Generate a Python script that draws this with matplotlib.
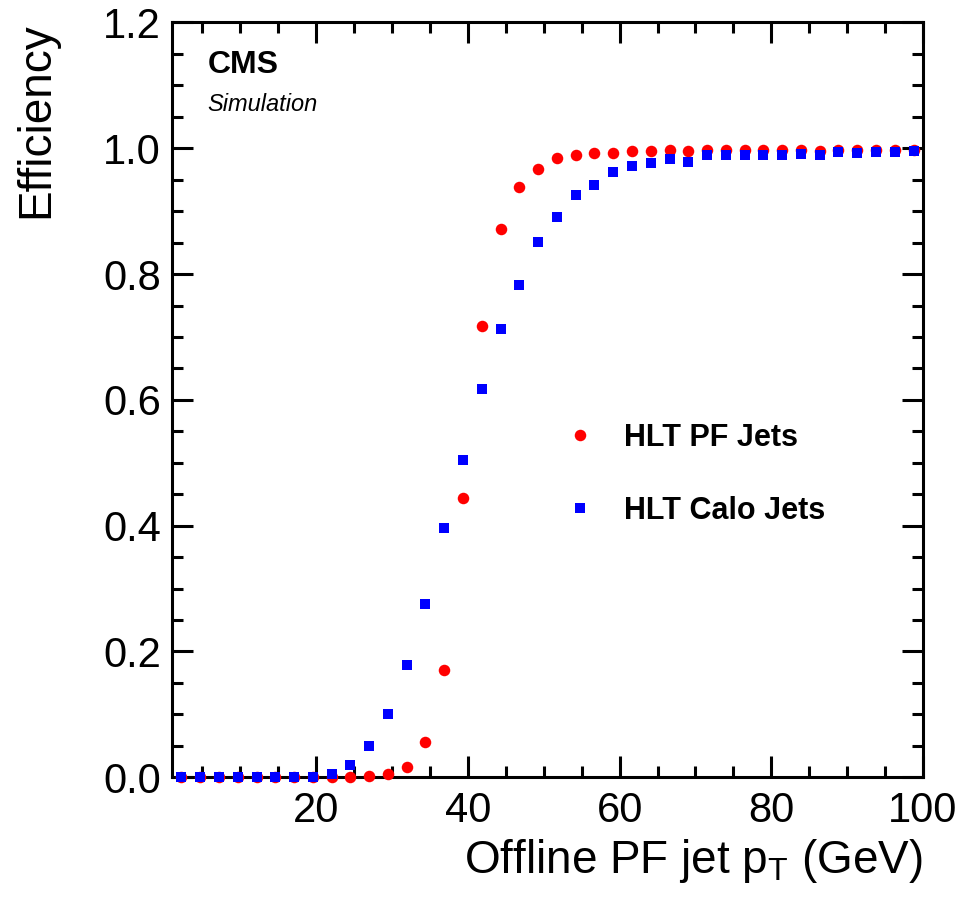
import matplotlib
matplotlib.use("Agg")
import matplotlib.pyplot as plt
from matplotlib.ticker import MultipleLocator

plt.rcParams['font.family'] = ['Liberation Sans', 'DejaVu Sans']
plt.rcParams['mathtext.default'] = 'regular'

# bin centres (GeV) and efficiencies
pt_centers = [2.24, 4.71, 7.19, 9.66, 12.14, 14.61, 17.09, 19.56, 22.04, 24.51,
              26.99, 29.46, 31.94, 34.41, 36.89, 39.36, 41.84, 44.31, 46.79, 49.26,
              51.74, 54.21, 56.69, 59.16, 61.64, 64.11, 66.59, 69.06, 71.54, 74.01,
              76.49, 78.96, 81.44, 83.91, 86.39, 88.86, 91.34, 93.81, 96.29, 98.76]

eff_pf = [0.0, 0.0, 0.0, 0.0, 0.0, 0.0, 0.0, 0.0, 0.0005, 0.001,
          0.002, 0.005, 0.016, 0.056, 0.170, 0.444, 0.718, 0.872, 0.938, 0.967,
          0.984, 0.990, 0.993, 0.993, 0.995, 0.995, 0.997, 0.996, 0.998, 0.998,
          0.998, 0.997, 0.997, 0.997, 0.995, 0.998, 0.998, 0.998, 0.998, 0.998]

eff_calo = [0.0, 0.0, 0.0, 0.0, 0.0, 0.0, 0.0, 0.001, 0.005, 0.020,
            0.050, 0.101, 0.179, 0.276, 0.396, 0.505, 0.617, 0.712, 0.782, 0.851,
            0.890, 0.926, 0.942, 0.962, 0.972, 0.977, 0.983, 0.978, 0.989, 0.990,
            0.990, 0.990, 0.990, 0.991, 0.990, 0.994, 0.993, 0.994, 0.994, 0.995]

fig = plt.figure(figsize=(9.67, 8.99), dpi=100)
ax = fig.add_axes([0.1779, 0.1354, 0.7766, 0.8396])

ax.plot(pt_centers, eff_pf, linestyle='none', marker='o', markersize=8.3,
        color='#ff0000', markeredgewidth=0, label='HLT PF Jets', clip_on=False, zorder=5)
ax.plot(pt_centers, eff_calo, linestyle='none', marker='s', markersize=7.5,
        color='#0000ff', markeredgewidth=0, label='HLT Calo Jets', clip_on=False, zorder=6)

ax.set_xlim(1, 100)
ax.set_ylim(0, 1.2)
ax.xaxis.set_major_locator(MultipleLocator(20))
ax.xaxis.set_minor_locator(MultipleLocator(5))
ax.yaxis.set_major_locator(MultipleLocator(0.2))
ax.yaxis.set_minor_locator(MultipleLocator(0.05))
ax.yaxis.set_major_formatter(plt.FuncFormatter(lambda v, p: f"{v:.1f}"))

for s in ax.spines.values():
    s.set_linewidth(2.2)
ax.tick_params(which='both', direction='in', top=True, right=True, width=2.2)
ax.tick_params(which='major', length=15, labelsize=30, pad=8)
ax.tick_params(which='minor', length=8)
ax.tick_params(axis='x', which='major', pad=10)

ax.set_xlabel('Offline PF jet p$_{T}$ (GeV)', fontsize=33, loc='right', labelpad=4)
ax.set_ylabel('Efficiency', fontsize=33, loc='top', labelpad=32)

ax.text(0.047, 0.963, 'CMS', transform=ax.transAxes, fontsize=23, fontweight='bold',
        ha='left', va='top')
ax.text(0.047, 0.906, 'Simulation', transform=ax.transAxes, fontsize=17, style='italic',
        ha='left', va='top')

ax.legend(loc='center left', bbox_to_anchor=(0.523, 0.4015), frameon=False,
          prop={'size': 22, 'weight': 'bold'}, handlelength=1.0, handletextpad=0.94,
          labelspacing=1.40, borderpad=0, borderaxespad=0, markerscale=1.0)

fig.savefig('out.png', dpi=100)
